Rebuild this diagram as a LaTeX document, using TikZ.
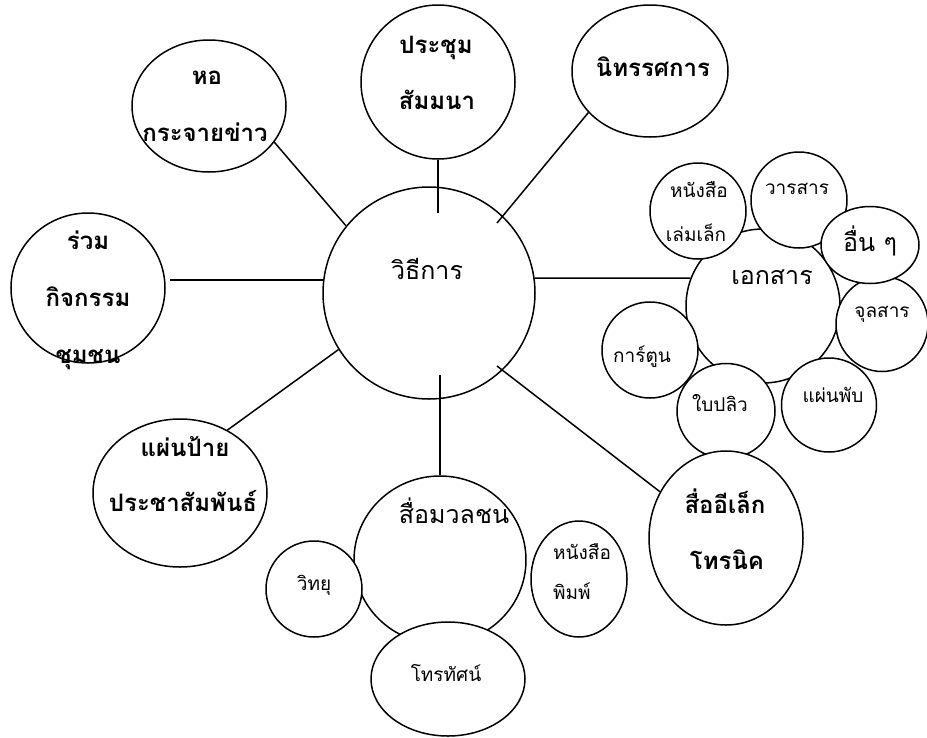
\documentclass[tikz,border=0pt]{standalone}
\usepackage{fontspec}
\setmainfont[Script=Thai]{Loma}
\usetikzlibrary{shapes.geometric,calc}
\tikzset{
  ell/.style={draw, ellipse, line width=1.5pt, fill=white, inner sep=0pt},
  conn/.style={line width=1.5pt},
  big/.style={font=\bfseries\fontsize{24}{24}\selectfont, anchor=base, inner sep=0pt},
  mid/.style={font=\fontsize{25}{25}\selectfont, anchor=base, inner sep=0pt},
  sml/.style={font=\fontsize{19}{19}\selectfont, anchor=base, inner sep=0pt}
}
\begin{document}
\begin{tikzpicture}[x=1pt,y=-1pt]
\useasboundingbox (0,0) rectangle (927,737);
% shapes
\node[ell, minimum width=212, minimum height=212] (cen) at (429,293) {};
\node[ell, minimum width=154, minimum height=132] (hor) at (209,106) {};
\node[ell, minimum width=154, minimum height=154] (pra) at (438,82) {};
\node[ell, minimum width=156, minimum height=132] (nit) at (650,71) {};
\node[ell, minimum width=154, minimum height=150] (rua) at (88,288) {};
\node[ell, minimum width=174, minimum height=148] (pan) at (180,493) {};
\node[ell, minimum width=154, minimum height=154] (eks) at (763,306) {};
\node[ell, minimum width=96, minimum height=96] (hnl) at (698,211) {};
\node[ell, minimum width=96, minimum height=96] (war) at (799,200) {};
\node[ell, minimum width=92, minimum height=95] (jul) at (882,324) {};
\node[ell, minimum width=98, minimum height=77] (oun) at (870,245) {};
\node[ell, minimum width=96, minimum height=96] (kar) at (650,350) {};
\node[ell, minimum width=98, minimum height=95] (bai) at (726,411) {};
\node[ell, minimum width=95, minimum height=94] (pap) at (829,405) {};
\node[ell, minimum width=172, minimum height=168] (smc) at (440,560) {};
\node[ell, minimum width=96, minimum height=96] (vit) at (314,589) {};
\node[ell, minimum width=96, minimum height=116] (npm) at (579,579) {};
\node[ell, minimum width=154, minimum height=114] (tv) at (448,679) {};
\node[ell, minimum width=154, minimum height=174] (ele) at (726,538) {};
% connectors
\draw[conn] (hor.-29) -- (cen.141);
\draw[conn] (pra.south) -- ($(cen.center)+(9,-80)$);
\draw[conn] (nit.214.5) -- ($(cen.center)+(68,-70)$);
\draw[conn] ($(rua.center)+(82,-8)$) -- ($(cen.center)+(-106,-13)$);
\draw[conn] (cen.8.6) -- (eks.159.5);
\draw[conn] (cen.212) -- (pan.53);
\draw[conn] ($(cen.center)+(11,82)$) -- (smc.north);
\draw[conn] ($(cen.center)+(68,73)$) -- (ele.145);
% texts
\node[mid] (tcen) at (427,279) {วิธีการ};
\node[big] (thor1) at (207,84) {หอ};
\node[big] (thor2) at (205,141) {กระจายข่าว};
\node[big] (tpra1) at (436,53) {ประชุม};
\node[big] (tpra2) at (437,109) {สัมมนา};
\node[big] (tnit) at (653,76) {นิทรรศการ};
\node[big] (trua1) at (88,249) {ร่วม};
\node[big] (trua2) at (88,306) {กิจกรรม};
\node[big] (trua3) at (88,363) {ชุมชน};
\node[big] (tpan1) at (185,456) {แผ่นป้าย};
\node[big] (tpan2) at (183,511) {ประชาสัมพันธ์};
\node[mid] (tsmc) at (454,523) {สื่อมวลชน};
\node[sml] (tvit) at (314,590) {วิทยุ};
\node[sml] (ttv) at (446,681) {โทรทัศน์};
\node[sml, anchor=base west] (tnpm1) at (553,559) {หนังสือ};
\node[sml, anchor=base west] (tnpm2) at (553,599) {พิมพ์};
\node[big] (tele1) at (725,513) {สื่ออีเล็ก};
\node[big] (tele2) at (727,569) {โทรนิค};
\node[mid] (teks) at (772,284) {เอกสาร};
\node[sml] (thnl1) at (699,197) {หนังสือ};
\node[sml] (thnl2) at (696,241) {เล่มเล็ก};
\node[sml] (twar) at (797,194) {วารสาร};
\node[mid] (toun) at (870,251) {อื่น ๆ};
\node[sml] (tjul) at (882,317) {จุลสาร};
\node[sml] (tkar) at (642,362) {การ์ตูน};
\node[sml] (tbai) at (720,411) {ใบปลิว};
\node[sml] (tpap) at (833,402) {แผ่นพับ};
\end{tikzpicture}
\end{document}
